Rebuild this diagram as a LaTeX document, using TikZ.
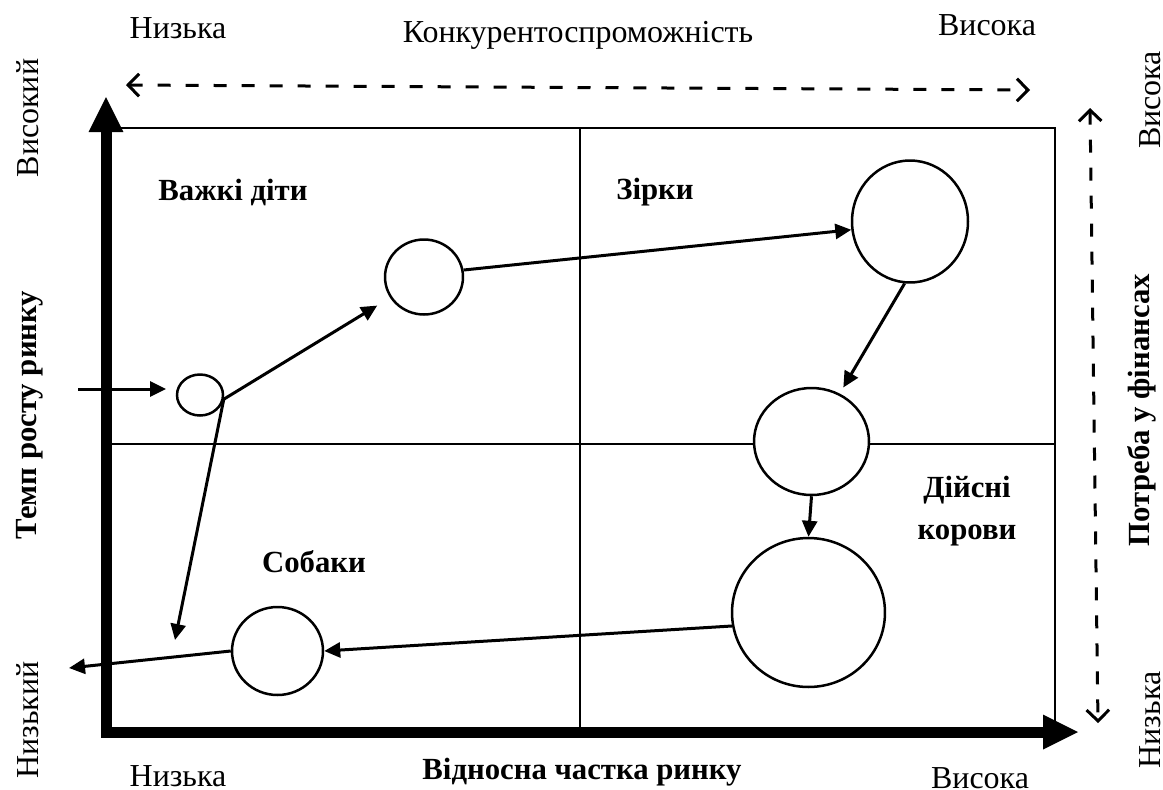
\documentclass[tikz,border=0pt]{standalone}
\usepackage{fontspec}
\setmainfont{Liberation Serif}
\usetikzlibrary{arrows.meta,shapes.geometric}

\tikzset{
  bubble/.style={draw, ellipse, fill=white, line width=0.05cm, inner sep=0pt},
  flow/.style={-{Triangle[length=0.32cm,width=0.3cm]}, line width=0.06cm},
  scalearrow/.style={{Straight Barb[length=0.22cm,width=0.45cm]}-{Straight Barb[length=0.22cm,width=0.45cm]}, line width=0.06cm, dash pattern=on 0.26cm off 0.3cm},
  grid line/.style={line width=0.04cm},
  axis/.style={line width=0.22cm, miter limit=10, {Triangle[length=0.7cm,width=0.7cm,line width=0pt]}-{Triangle[length=0.7cm,width=0.7cm,line width=0pt]}},
  lbl/.style={font=\fontsize{18.2}{24}\selectfont, inner sep=0pt},
  blbl/.style={font=\fontsize{17.5}{24}\selectfont\bfseries, inner sep=0pt},
}

\begin{document}
\begin{tikzpicture}[x=0.02cm, y=-0.02cm]
\useasboundingbox (0,0) rectangle (1163,789);

% quadrants
\draw[grid line] (106,128) -- (1055,128) -- (1055,732);
\draw[grid line] (580,128) -- (580,732);
\draw[grid line] (106,444) -- (1055,444);

% axes
\coordinate (origin) at (106,732);
\coordinate (ytip) at (106,97);
\coordinate (xtip) at (1078,732);
\draw[axis] (ytip) -- (origin) -- (xtip);

% dashed scales
\coordinate (comp-l) at (126,85);
\coordinate (comp-r) at (1030,90);
\draw[scalearrow] (comp-l) -- (comp-r);
\coordinate (need-t) at (1090,108);
\coordinate (need-b) at (1098,723);
\draw[scalearrow] (need-t) -- (need-b);

% products
\node[bubble, minimum width=0.92cm, minimum height=0.82cm] (start) at (200,395) {};
\node[bubble, minimum width=1.56cm, minimum height=1.5cm] (child) at (424,277) {};
\node[bubble, minimum width=2.32cm, minimum height=2.44cm] (star) at (910,221.5) {};
\node[bubble, minimum width=2.3cm, minimum height=2.14cm] (cowtop) at (811.5,441.5) {};
\node[bubble, minimum width=3.06cm, minimum height=2.98cm] (cowbig) at (808.5,612.5) {};
\node[bubble, minimum width=1.82cm, minimum height=1.76cm] (dog) at (277.5,651) {};

\coordinate (entry) at (78,389);
\coordinate (entryend) at (166,389);
\coordinate (drop) at (175,640);
\coordinate (exit) at (69,668);

\draw[flow] (entry) -- (entryend);
\draw[flow, shorten >=0.3cm] (start.-10) -- (child);
\draw[flow] (start.-10) -- (drop);
\draw[flow] (child.10) -- (star.188);
\draw[flow, shorten >=0.14cm] (star.-95) -- (cowtop);
\draw[flow] (cowtop.south) -- (cowbig.north);
\draw[flow] (cowbig.190) -- (dog.east);
\draw[flow] (dog.west) -- (exit);

% quadrant names
\node[blbl] (kids-lbl) at (233,192) {Важкі діти};
\node[blbl] (stars-lbl) at (655,192) {Зірки};
\node[blbl] (dogs-lbl) at (314,562) {Собаки};
\node[blbl, align=center] (cows-lbl) at (967,511) {Дійсні\\корови};

% scale labels
\node[lbl] (comp-low) at (178,28) {Низька};
\node[lbl] (comp) at (578,35) {Конкурентоспроможність};
\node[lbl] (comp-high) at (987,25) {Висока};
\node[lbl] (share-low) at (178,776) {Низька};
\node[blbl] (share) at (582,772) {Відносна частка ринку};
\node[lbl] (share-high) at (980,778) {Висока};
\node[lbl, rotate=90] (growth-high) at (28,118) {Високий};
\node[blbl, rotate=90] (growth) at (30,415) {Темп росту ринку};
\node[lbl, rotate=90] (growth-low) at (28,720) {Низький};
\node[lbl, rotate=90] (need-high) at (1150,100) {Висока};
\node[blbl, rotate=90] (need) at (1142,410) {Потреба у фінансах};
\node[lbl, rotate=90] (need-low) at (1150,720) {Низька};

\end{tikzpicture}
\end{document}
